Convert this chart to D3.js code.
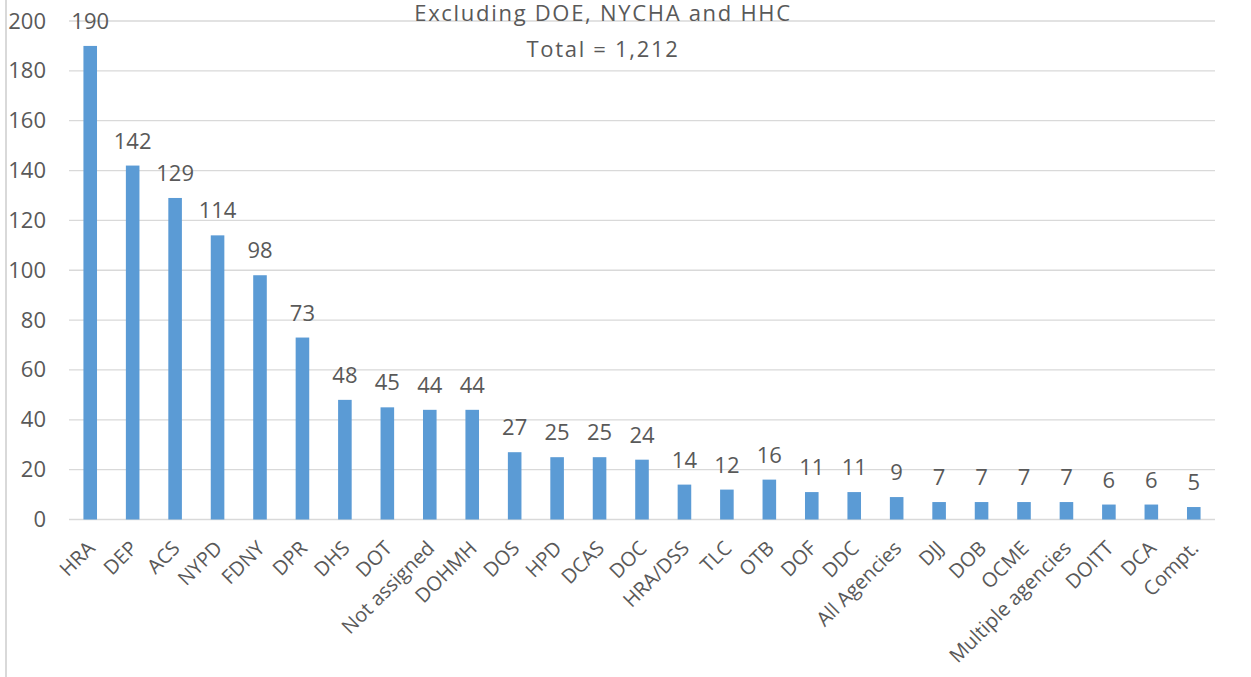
<!DOCTYPE html>
<html><head><meta charset="utf-8">
<script src="https://cdn.jsdelivr.net/npm/d3@7"></script>
<style>body{margin:0;background:#fff}svg{display:block}text{font-family:"Open Sans",sans-serif;fill:#595959}</style>
</head><body><svg id="c" width="1251" height="677"></svg>
<script>
const categories = ["HRA","DEP","ACS","NYPD","FDNY","DPR","DHS","DOT","Not assigned","DOHMH","DOS","HPD","DCAS","DOC","HRA/DSS","TLC","OTB","DOF","DDC","All Agencies","DJJ","DOB","OCME","Multiple agencies","DOITT","DCA","Compt."];
const values = [190,142,129,114,98,73,48,45,44,44,27,25,25,24,14,12,16,11,11,9,7,7,7,7,6,6,5];
const yTicks = [0,20,40,60,80,100,120,140,160,180,200];
const titleLines = ["Excluding DOE, NYCHA and HHC","Total = 1,212"];

const svg = d3.select("#c");
const x = d3.scaleBand().domain(categories).range([69,1215]).paddingInner(0.68).paddingOuter(0.34);
const y = d3.scaleLinear().domain([0,200]).range([519.5,21]);

// left border
svg.append("line").attr("x1",6).attr("x2",6).attr("y1",0).attr("y2",677).attr("stroke","#D9D9D9").attr("stroke-width",2);

// gridlines
svg.append("g").selectAll("line").data(yTicks).join("line")
  .attr("x1",69).attr("x2",1215).attr("y1",d=>y(d)).attr("y2",d=>y(d))
  .attr("stroke","#D9D9D9").attr("stroke-width",1.3);

// y axis labels
const yAxis = d3.axisLeft(y).tickValues(yTicks).tickSize(0).tickPadding(0);
const gy = svg.append("g").attr("transform","translate(46,0)").call(yAxis);
gy.select(".domain").remove();
gy.selectAll("text").attr("font-size",22).attr("fill","#595959").style("font-family","'Open Sans',sans-serif");

// title
svg.append("g").selectAll("text").data(titleLines).join("text")
  .attr("x",603).attr("y",(d,i)=>21+i*35.5).attr("text-anchor","middle")
  .attr("font-size",22).attr("letter-spacing",1.7).text(d=>d);

// bars
svg.append("g").selectAll("rect").data(values).join("rect")
  .attr("x",(d,i)=>x(categories[i])).attr("width",x.bandwidth())
  .attr("y",d=>y(d)).attr("height",d=>y(0)-y(d)).attr("fill","#5B9BD5");

// data labels
svg.append("g").selectAll("text").data(values).join("text")
  .attr("x",(d,i)=>x(categories[i])+x.bandwidth()/2).attr("y",d=>y(d)-17)
  .attr("text-anchor","middle").attr("font-size",22).text(d=>d);

// x axis labels
const xAxis = d3.axisBottom(x).tickSize(0).tickPadding(0);
const gx = svg.append("g").attr("transform",`translate(0,${y(0)})`).call(xAxis);
gx.select(".domain").remove();
gx.selectAll("text").attr("font-size",20).attr("fill","#595959").style("font-family","'Open Sans',sans-serif")
  .attr("text-anchor","end").attr("dy",0).attr("y",0)
  .attr("transform","translate(6,30) rotate(-45)");
</script></body></html>
